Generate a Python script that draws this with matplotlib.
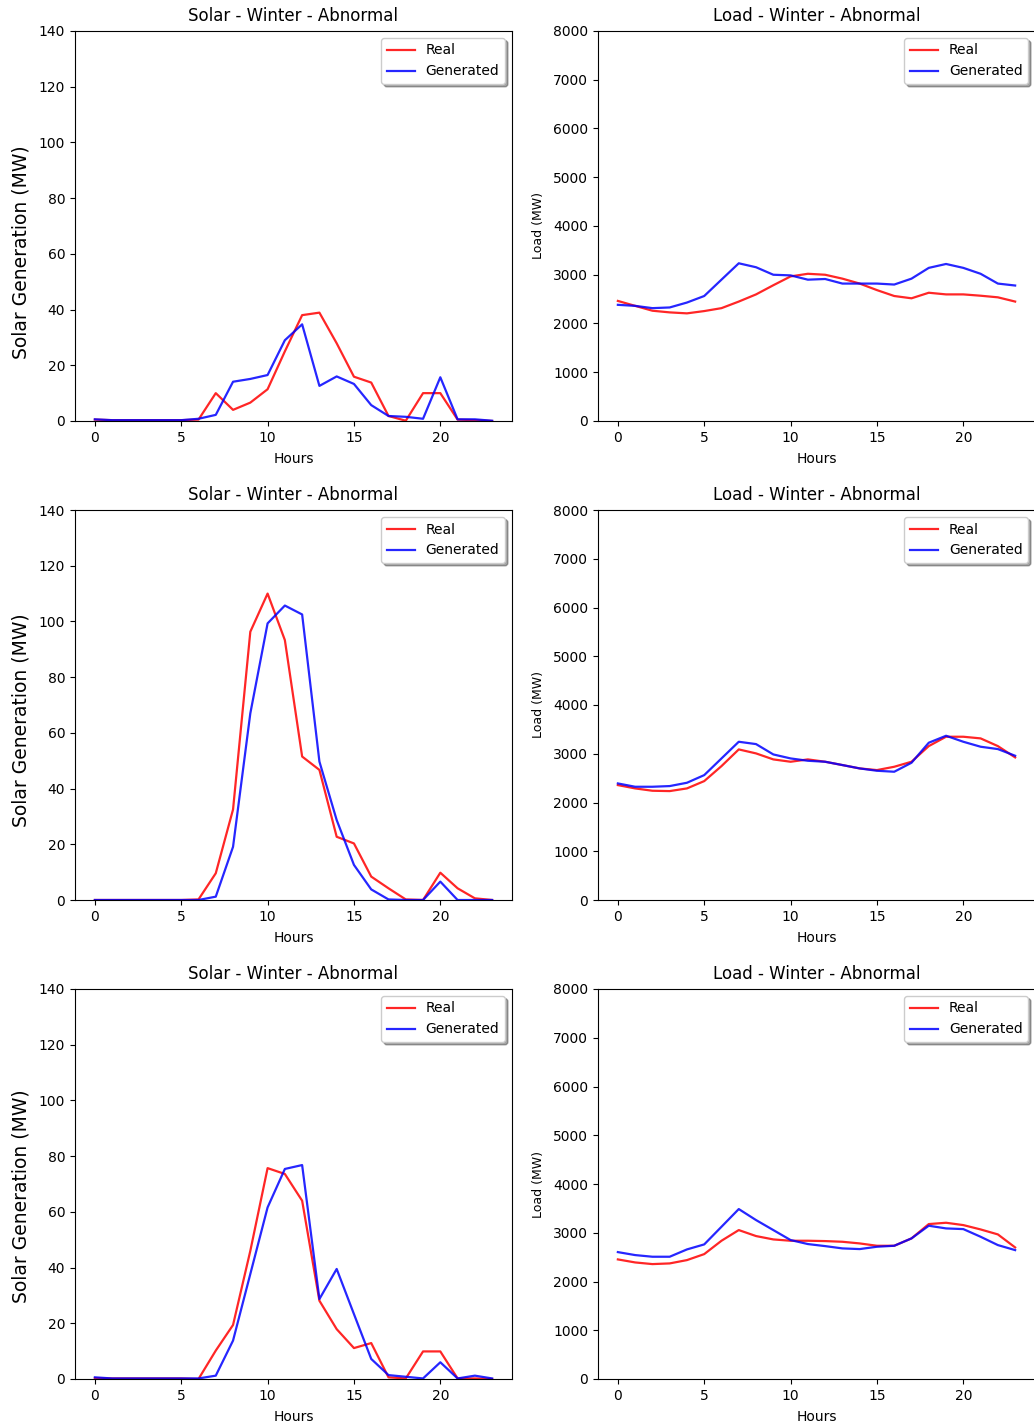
import numpy as np
import matplotlib
matplotlib.use('Agg')
import matplotlib.pyplot as plt

# figure settings
fig_w_px    = 1034
fig_h_px    = 1426
dpi         = 100
real_color  = "r"
gen_color   = "b"
lw          = 1.6
title_size  = 12
tick_size   = 10

hours = list(range(24))

# row 1
solar_real_1 = [0.5, 0.3, 0.3, 0.3, 0.3, 0.3, 0.5, 10.0, 4.0, 6.6, 11.4, 25.0,
                38.0, 38.9, 27.9, 15.9, 13.8, 1.8, 0.1, 10.0, 10.0, 0.5, 0.3, 0.0]
solar_gen_1  = [0.6, 0.3, 0.3, 0.3, 0.3, 0.3, 0.8, 2.2, 14.1, 15.1, 16.5, 29.0,
                34.7, 12.6, 16.0, 13.3, 5.7, 1.8, 1.5, 0.8, 15.7, 0.6, 0.6, 0.1]
load_real_1  = [2463, 2362, 2262, 2228, 2208, 2255, 2315, 2450, 2597, 2785, 2966, 3020,
                3000, 2920, 2819, 2685, 2564, 2517, 2631, 2597, 2597, 2570, 2537, 2450]
load_gen_1   = [2383, 2362, 2315, 2329, 2430, 2564, 2900, 3235, 3154, 3000, 2987, 2899,
                2913, 2819, 2819, 2819, 2799, 2920, 3141, 3221, 3141, 3020, 2819, 2779]

# row 2
solar_real_2 = [0, 0, 0, 0, 0, 0, 0.2, 9.6, 32.5, 96.3, 110.0, 93.3,
                51.5, 46.7, 22.7, 20.3, 8.4, 4.2, 0.2, 0, 9.8, 4.2, 0.6, 0]
solar_gen_2  = [0, 0, 0, 0, 0, 0, 0, 1.2, 19.1, 67.0, 99.3, 105.7,
                102.5, 49.7, 28.7, 12.6, 3.8, 0.2, 0, 0, 6.6, 0, 0, 0]
load_real_2  = [2357, 2289, 2241, 2234, 2289, 2439, 2747, 3089, 3007, 2884, 2836, 2884,
                2836, 2768, 2699, 2665, 2733, 2836, 3157, 3349, 3349, 3315, 3157, 2925]
load_gen_2   = [2391, 2323, 2323, 2337, 2405, 2562, 2904, 3246, 3198, 2986, 2904, 2856,
                2836, 2768, 2699, 2651, 2631, 2815, 3226, 3369, 3246, 3144, 3096, 2959]

# row 3
solar_real_3 = [0.3, 0.2, 0.2, 0.2, 0.2, 0.2, 0, 10.2, 19.4, 46.0, 75.7, 73.6,
                64.0, 28.1, 17.9, 11.1, 12.9, 0.6, 0.2, 9.9, 9.9, 0.2, 0.2, 0]
solar_gen_3  = [0.6, 0.2, 0.2, 0.2, 0.2, 0.2, 0.2, 1.2, 13.8, 37.7, 61.6, 75.4,
                76.8, 28.7, 39.5, 23.3, 7.2, 1.4, 0.8, 0.2, 6.0, 0.2, 1.2, 0.2]
load_real_3  = [2453, 2391, 2357, 2371, 2439, 2562, 2836, 3055, 2932, 2863, 2836, 2836,
                2829, 2815, 2781, 2733, 2733, 2884, 3178, 3205, 3157, 3068, 2966, 2699]
load_gen_3   = [2603, 2542, 2508, 2508, 2658, 2761, 3123, 3486, 3260, 3055, 2850, 2768,
                2726, 2679, 2665, 2713, 2733, 2884, 3144, 3089, 3075, 2918, 2747, 2644]

solar_rows = [(solar_real_1, solar_gen_1), (solar_real_2, solar_gen_2), (solar_real_3, solar_gen_3)]
load_rows  = [(load_real_1, load_gen_1), (load_real_2, load_gen_2), (load_real_3, load_gen_3)]

# axes boxes in pixels (left, top, width, height)
left_x   = [75, 598]
ax_w     = 437
ax_tops  = [31, 510, 989]
ax_h     = 390
# solar ylabel sits a bit below the axes centre in the reference (px)
ylab_shift = [26, 15, 12]
ylab_x_px  = 31

def px_box(x, top, w, h):
  return [x/fig_w_px, 1 - (top + h)/fig_h_px, w/fig_w_px, h/fig_h_px]

fig = plt.figure(figsize=(fig_w_px/dpi, fig_h_px/dpi), dpi=dpi)

for row, top in enumerate(ax_tops):
  # solar panel
  ax = fig.add_axes(px_box(left_x[0], top, ax_w, ax_h))
  real, gen = solar_rows[row]
  ax.plot(hours, real, color=real_color, lw=lw, alpha=0.85, label="Real")
  ax.plot(hours, gen, color=gen_color, lw=lw, alpha=0.85, label="Generated")
  ax.set_ylim(0, 140)
  ax.set_yticks(np.arange(0, 141, 20))
  ax.set_xticks([0, 5, 10, 15, 20])
  ax.set_title("Solar - Winter - Abnormal", fontsize=title_size, pad=7)
  ax.set_xlabel("Hours", fontsize=10, labelpad=5)
  ax.set_ylabel("Solar Generation (MW)", fontsize=13.5)
  ax.yaxis.set_label_coords((ylab_x_px - left_x[0])/ax_w, 0.5 - ylab_shift[row]/ax_h)
  ax.tick_params(axis='both', labelsize=tick_size)
  ax.legend(loc="upper right", fontsize=10, shadow=True)

  # load panel
  ax = fig.add_axes(px_box(left_x[1], top, ax_w, ax_h))
  real, gen = load_rows[row]
  ax.plot(hours, real, color=real_color, lw=lw, alpha=0.85, label="Real")
  ax.plot(hours, gen, color=gen_color, lw=lw, alpha=0.85, label="Generated")
  ax.set_ylim(0, 8000)
  ax.set_yticks(np.arange(0, 8001, 1000))
  ax.set_xticks([0, 5, 10, 15, 20])
  ax.set_title("Load - Winter - Abnormal", fontsize=title_size, pad=7)
  ax.set_xlabel("Hours", fontsize=10, labelpad=5)
  ax.set_ylabel("Load (MW)", fontsize=9, labelpad=6)
  ax.tick_params(axis='both', labelsize=tick_size)
  ax.legend(loc="upper right", fontsize=10, shadow=True)

fig.savefig("out.png", dpi=dpi)
